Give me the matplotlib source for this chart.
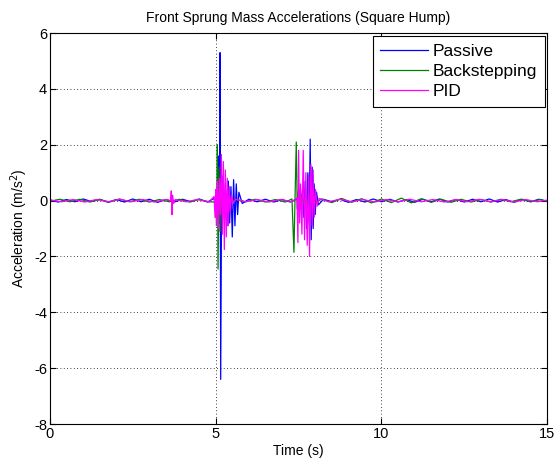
import matplotlib
matplotlib.use("Agg")
import matplotlib.pyplot as plt

plt.rcParams['font.family'] = ['Liberation Sans', 'DejaVu Sans']
plt.rcParams['axes.unicode_minus'] = False

# Passive (blue)
passive_t = [0.0, 0.25, 0.5, 0.75, 1.0, 1.25, 1.5, 1.75, 2.0, 2.25, 2.5, 2.75, 3.0, 3.25,
             3.5, 3.75, 4.0, 4.25, 4.5, 4.75, 4.95, 5.05, 5.09, 5.11, 5.13, 5.15, 5.18, 5.21,
             5.24, 5.27, 5.30, 5.34, 5.38, 5.42, 5.46, 5.50, 5.54, 5.58, 5.62, 5.66, 5.70,
             5.80, 6.0, 6.25, 6.5, 6.75, 7.0, 7.25, 7.45, 7.55, 7.62, 7.66, 7.70, 7.74, 7.78,
             7.82, 7.85, 7.88, 7.91, 7.94, 7.97, 8.00, 8.04, 8.10, 8.25, 8.5, 8.75, 9.0, 9.25,
             9.5, 9.75, 10.0, 10.25, 10.5, 10.75, 11.0, 11.25, 11.5, 11.75, 12.0, 12.25, 12.5,
             12.75, 13.0, 13.25, 13.5, 13.75, 14.0, 14.25, 14.5, 14.75, 15.0]
passive_a = [0.03, -0.05, 0.04, -0.04, 0.06, -0.03, 0.05, -0.06, 0.04, -0.05, 0.06, -0.04, 0.05, -0.06,
             0.04, -0.05, 0.05, -0.04, 0.06, -0.05, 0.08, -0.4, 1.6, -0.8, 5.3, -6.4, 0.9, -0.7,
             0.6, -0.5, 0.4, -0.9, 0.7, -0.8, 0.5, -1.3, 0.75, -0.9, 0.6, -0.5, 0.3,
             -0.1, 0.05, -0.04, 0.05, -0.05, 0.04, -0.05, 0.06, -0.3, 0.4, -0.6, 0.7, -1.0, 1.0,
             -0.8, 2.2, -1.4, 1.2, -1.0, 0.6, -0.5, 0.3, -0.15, 0.05, -0.04, 0.05, -0.06, 0.04,
             -0.05, 0.06, -0.04, 0.05, -0.05, 0.04, -0.06, 0.05, -0.04, 0.06, -0.05, 0.04, -0.05,
             0.05, -0.04, 0.06, -0.05, 0.04, -0.06, 0.05, -0.04, 0.05, -0.03]

# Backstepping (green)
backstep_t = [0.0, 0.3, 0.6, 0.9, 1.2, 1.5, 1.8, 2.1, 2.4, 2.7, 3.0, 3.3, 3.6, 3.9, 4.2, 4.5,
              4.8, 4.98, 5.01, 5.03, 5.05, 5.07, 5.10, 5.13, 5.16, 5.19, 5.23, 5.28, 5.35, 5.45,
              5.6, 5.9, 6.2, 6.5, 6.8, 7.1, 7.3, 7.36, 7.40, 7.43, 7.46, 7.50, 7.55, 7.60, 7.66,
              7.72, 7.80, 7.90, 8.0, 8.2, 8.5, 8.8, 9.1, 9.4, 9.7, 10.0, 10.3, 10.6, 10.9, 11.2,
              11.5, 11.8, 12.1, 12.4, 12.7, 13.0, 13.3, 13.6, 13.9, 14.2, 14.5, 14.8, 15.0]
backstep_a = [-0.02, 0.05, -0.04, 0.05, -0.05, 0.04, -0.05, 0.06, -0.04, 0.05, -0.05, 0.04, -0.04, 0.05, -0.05, 0.04,
              -0.04, -0.05, 0.3, -0.6, 2.0, -2.45, 1.2, -1.1, 0.6, -0.5, 0.3, -0.2, 0.1, -0.06,
              0.05, -0.04, 0.05, -0.05, 0.04, -0.05, 0.06, -1.85, 0.5, 2.1, -0.3, 0.4, -0.3, 0.2, -0.15,
              0.15, -0.1, 0.1, -0.08, 0.06, -0.07, 0.08, -0.06, 0.07, -0.08, 0.06, -0.07, 0.09, -0.08, 0.07,
              -0.06, 0.05, -0.06, 0.05, -0.05, 0.04, -0.05, 0.05, -0.04, 0.05, -0.04, 0.04, -0.02]

# PID (magenta)
pid_t = [0.0, 0.35, 0.7, 1.05, 1.4, 1.75, 2.1, 2.45, 2.8, 3.15, 3.5, 3.64, 3.66, 3.68, 3.70,
         3.73, 3.78, 4.1, 4.45, 4.8, 4.95, 4.98, 5.00, 5.02, 5.05, 5.08, 5.11, 5.14, 5.17, 5.20,
         5.23, 5.26, 5.29, 5.32, 5.35, 5.38, 5.41, 5.44, 5.48, 5.53, 5.60, 5.9, 6.25, 6.6, 6.95,
         7.3, 7.45, 7.48, 7.50, 7.53, 7.56, 7.60, 7.64, 7.68, 7.72, 7.76, 7.80, 7.83, 7.87, 7.91,
         7.94, 7.97, 8.01, 8.06, 8.12, 8.4, 8.75, 9.1, 9.45, 9.8, 10.15, 10.5, 10.85, 11.2, 11.55,
         11.9, 12.25, 12.6, 12.95, 13.3, 13.65, 14.0, 14.35, 14.7, 15.0]
pid_a = [0.02, -0.04, 0.04, -0.05, 0.04, -0.04, 0.05, -0.04, 0.04, -0.05, 0.04, 0.0, 0.35, -0.5, 0.2,
         -0.1, 0.04, -0.04, 0.04, -0.05, 0.15, -0.6, 0.4, -0.9, 0.7, -1.0, 0.8, -0.5, 1.65, -1.2,
         1.4, -1.75, 1.1, -1.3, 0.8, -0.9, 0.5, -0.4, 0.2, -0.1, 0.05, -0.04, 0.04, -0.05, 0.04,
         -0.04, 0.1, -1.5, 1.8, -0.8, 0.6, -1.2, 1.8, -1.4, 1.0, -1.6, 0.9, -2.0, 1.3, -0.9,
         1.1, -0.6, 0.4, -0.2, 0.08, -0.04, 0.05, -0.04, 0.04, -0.05, 0.04, -0.04, 0.05, -0.04, 0.04,
         -0.05, 0.04, -0.04, 0.05, -0.04, 0.04, -0.05, 0.04, -0.04, 0.02]

labels = ['Passive', 'Backstepping', 'PID']
colors = ['#0000ff', '#008000', '#ff00ff']

fig = plt.figure(figsize=(5.55, 4.66), dpi=100)
ax = fig.add_axes([0.090, 0.090, 0.896, 0.839])

ax.plot(passive_t, passive_a, color=colors[0], lw=0.9, label=labels[0])
ax.plot(backstep_t, backstep_a, color=colors[1], lw=0.9, label=labels[1])
ax.plot(pid_t, pid_a, color=colors[2], lw=0.9, label=labels[2])

ax.set_xlim(0, 15)
ax.set_ylim(-8, 6)
ax.set_xticks([0, 5, 10, 15])
ax.set_yticks([-8, -6, -4, -2, 0, 2, 4, 6])
ax.grid(True, color='black', linestyle=(0, (1, 3)), linewidth=0.6)
ax.tick_params(direction='in', length=4, top=True, right=True, labelsize=10.5, pad=2)
for s in ax.spines.values():
    s.set_linewidth(0.8)

ax.set_title('Front Sprung Mass Accelerations (Square Hump)', fontsize=10, pad=8)
ax.set_xlabel('Time (s)', fontsize=10, labelpad=2)
ax.set_ylabel('Acceleration (m/s$^2$)', fontsize=10, labelpad=3)

leg = ax.legend(loc='upper right', fontsize=12.5, fancybox=False, framealpha=1,
                edgecolor='black', borderaxespad=0.15, handlelength=2.75,
                handletextpad=0.25, labelspacing=0.3, borderpad=0.45)
leg.get_frame().set_linewidth(0.8)

fig.savefig('out.png', dpi=100)
